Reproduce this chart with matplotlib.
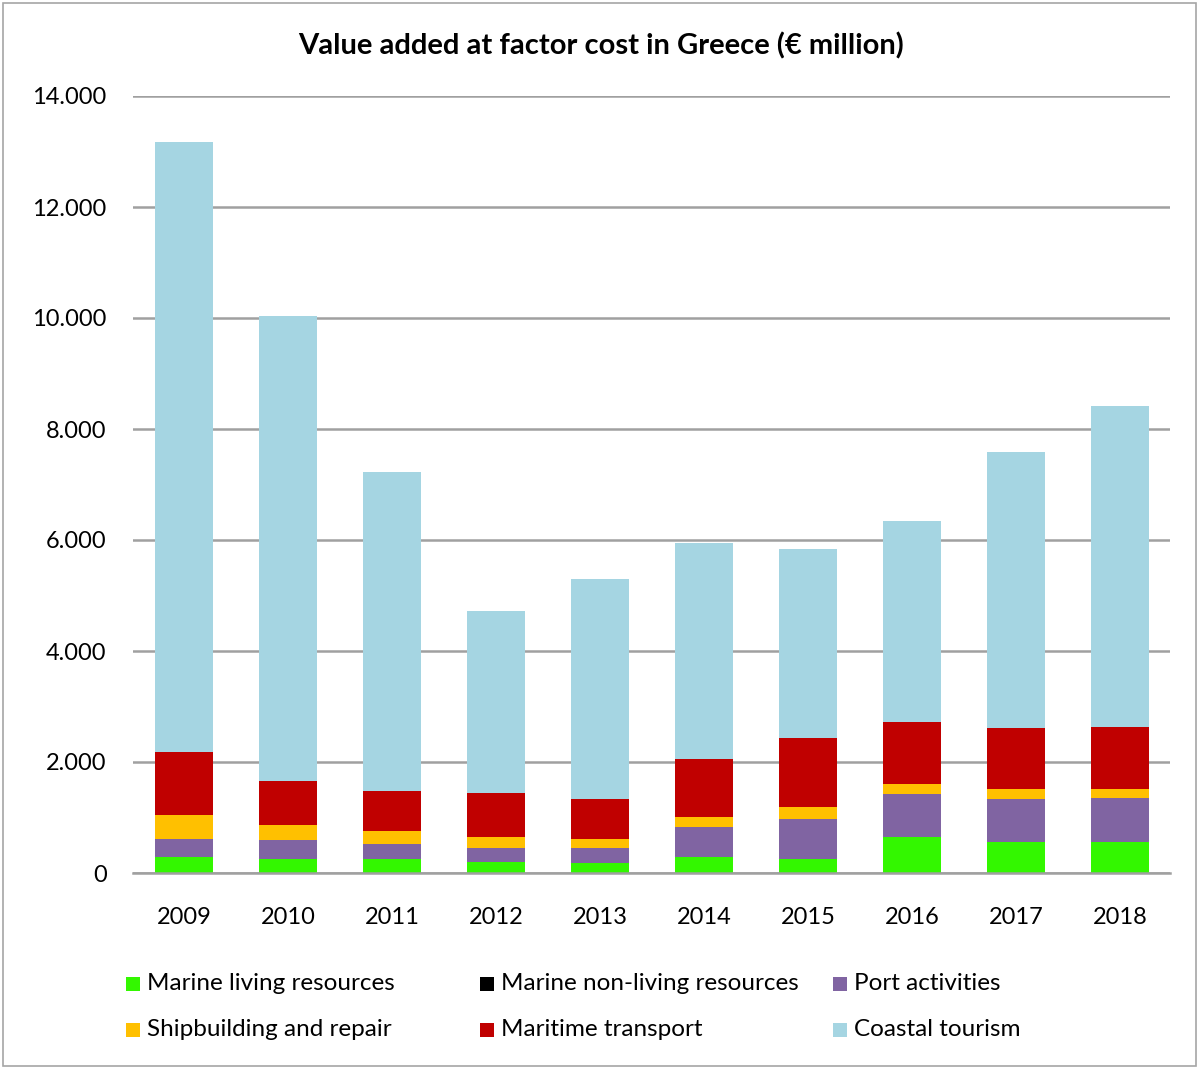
import matplotlib.pyplot as plt
from matplotlib.patches import Rectangle
from matplotlib.ticker import FuncFormatter

years = ['2009', '2010', '2011', '2012', '2013', '2014', '2015', '2016', '2017', '2018']
living = [280, 252, 245, 191, 173, 281, 257, 648, 551, 558]
non_living = [0, 0, 0, 0, 0, 0, 0, 0, 0, 0]
port = [324, 342, 283, 265, 270, 540, 720, 767, 774, 785]
shipbuilding = [445, 270, 234, 198, 175, 193, 216, 187, 187, 175]
transport = [1128, 785, 715, 787, 720, 1039, 1237, 1121, 1109, 1121]
tourism = [11000, 8394, 5756, 3287, 3966, 3895, 3414, 3626, 4971, 5782]

series = [
    ('Marine living resources', living, '#33F700'),
    ('Marine non-living resources', non_living, '#000000'),
    ('Port activities', port, '#8064A2'),
    ('Shipbuilding and repair', shipbuilding, '#FFC000'),
    ('Maritime transport', transport, '#C00000'),
    ('Coastal tourism', tourism, '#A5D5E2'),
]

plt.rcParams['font.family'] = ['Lato', 'DejaVu Sans']

fig = plt.figure(figsize=(11.98, 10.68), dpi=100)
ax = fig.add_axes([133 / 1198, 1 - 873 / 1068, (1170 - 133) / 1198, (873 - 96) / 1068])

x = list(range(len(years)))
bottom = [0] * len(years)
for name, vals, col in series:
    ax.bar(x, vals, 0.56, bottom=bottom, color=col, label=name, zorder=3)
    bottom = [b + v for b, v in zip(bottom, vals)]

ax.set_xlim(-0.49, 9.48)
ax.set_ylim(0, 14000)
ax.set_yticks(range(0, 14001, 2000))
ax.yaxis.set_major_formatter(FuncFormatter(lambda v, p: f'{int(v):,}'.replace(',', '.')))
ax.set_xticks(x)
ax.set_xticklabels(years)
ax.grid(axis='y', color='#a0a0a0', linewidth=1.8, zorder=0)
for s in ['top', 'right', 'left']:
    ax.spines[s].set_visible(False)
ax.spines['bottom'].set_color('#a0a0a0')
ax.spines['bottom'].set_linewidth(1.8)
ax.spines['bottom'].set_zorder(4)
ax.tick_params(axis='both', length=0, labelsize=17)
ax.tick_params(axis='y', pad=19)
ax.tick_params(axis='x', pad=24.5)

fig.text(0.502, 1 - 46 / 1068, 'Value added at factor cost in Greece (€ million)',
         ha='center', va='center', fontsize=21, fontweight='bold')

# legend laid out like the original: 3 columns, 2 rows
cols_x = [126, 480, 833]
rows_y = [984, 1030]
for k, (name, vals, col) in enumerate(series):
    cx = cols_x[k % 3]
    cy = rows_y[k // 3]
    fig.patches.append(Rectangle((cx / 1198, 1 - (cy + 7) / 1068), 14 / 1198, 14 / 1068,
                                 transform=fig.transFigure, facecolor=col, edgecolor='none'))
    fig.text((cx + 21) / 1198, 1 - cy / 1068, name, ha='left', va='center', fontsize=17.5)

fig.patches.append(Rectangle((3 / 1198, 2 / 1068), 1193 / 1198, 1063 / 1068,
                             transform=fig.transFigure, facecolor='none',
                             edgecolor='#a6a6a6', linewidth=1.2))

fig.savefig('out.png', dpi=100)
